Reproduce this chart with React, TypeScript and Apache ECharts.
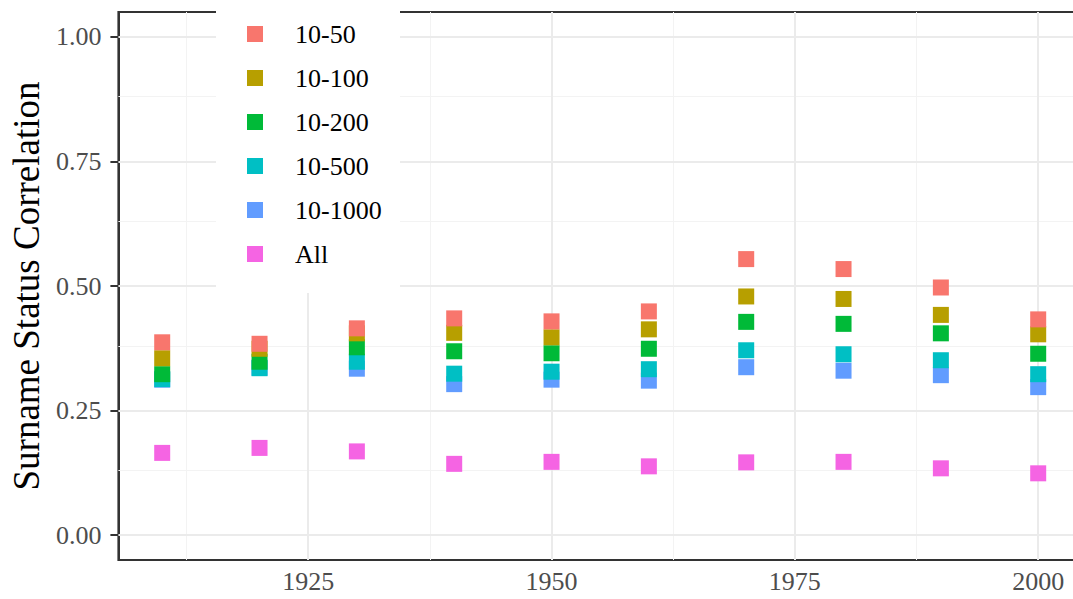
import React, { useEffect, useRef } from "react";
import * as echarts from "echarts";

const years = [1910, 1920, 1930, 1940, 1950, 1960, 1970, 1980, 1990, 2000];
const seriesNames = ["10-50", "10-100", "10-200", "10-500", "10-1000", "All"];
const v50 = [0.387, 0.384, 0.415, 0.435, 0.429, 0.449, 0.554, 0.534, 0.497, 0.433];
const v100 = [0.355, 0.374, 0.405, 0.406, 0.397, 0.413, 0.479, 0.474, 0.442, 0.403];
const v200 = [0.323, 0.348, 0.377, 0.369, 0.365, 0.374, 0.428, 0.424, 0.405, 0.364];
const v500 = [0.313, 0.335, 0.348, 0.324, 0.328, 0.333, 0.371, 0.363, 0.351, 0.323];
const v1000 = [0.312, 0.336, 0.334, 0.303, 0.312, 0.310, 0.337, 0.330, 0.321, 0.297];
const vAll = [0.165, 0.175, 0.168, 0.143, 0.147, 0.138, 0.146, 0.147, 0.134, 0.124];
const seriesValues = [v50, v100, v200, v500, v1000, vAll];
const colors = ["#F8766D", "#B79F00", "#00BA38", "#00BFC4", "#619CFF", "#F564E3"];

const xTicks = [1925, 1950, 1975, 2000];
const xMinor = [1912.5, 1937.5, 1962.5, 1987.5];
const yTicks = [0, 0.25, 0.5, 0.75, 1.0];
const yMinor = [0.125, 0.375, 0.625, 0.875];

const FONT = "Liberation Serif";

export default function App() {
  const ref = useRef<HTMLDivElement>(null);
  useEffect(() => {
    if (!ref.current) return;
    const chart = echarts.init(ref.current, null, { renderer: "svg" });
    const major = { color: "#ebebeb", width: 2, type: "solid" };
    const minor = { color: "#f3f3f3", width: 1, type: "solid" };
    const gridSeries = {
      type: "scatter",
      name: "__grid",
      data: [],
      silent: true,
      z: 1,
      markLine: {
        z: 1,
        silent: true,
        symbol: ["none", "none"],
        label: { show: false },
        animation: false,
        data: [
          ...xMinor.map((v) => ({ xAxis: v, lineStyle: minor })),
          ...yMinor.map((v) => ({ yAxis: v, lineStyle: minor })),
          ...xTicks.map((v) => ({ xAxis: v, lineStyle: major })),
          ...yTicks.map((v) => ({ yAxis: v, lineStyle: major })),
        ],
      },
    };
    const order = [5, 4, 3, 2, 1, 0];
    const dataSeries = order.map((i) => ({
      type: "scatter",
      name: seriesNames[i],
      symbol: "rect",
      symbolSize: 16,
      z: 3,
      itemStyle: { color: colors[i], opacity: 1 },
      data: years.map((y, k) => [y, seriesValues[i][k]]),
    }));
    chart.setOption({
      animation: false,
      backgroundColor: "#ffffff",
      textStyle: { fontFamily: FONT },
      grid: { left: 115, top: 12, right: 0, bottom: 39, show: true, borderColor: "#333333", borderWidth: 2, backgroundColor: "transparent" },
      xAxis: {
        type: "value",
        min: 1905.5,
        max: 2004.5,
        splitLine: { show: false },
        axisLine: { show: true, lineStyle: { color: "#333333", width: 2 } },
        axisTick: { show: true, customValues: xTicks, length: 8, lineStyle: { color: "#333333", width: 2 } },
        axisLabel: {
          customValues: xTicks,
          fontSize: 26,
          color: "#4d4d4d",
          fontFamily: FONT,
          margin: 8,
          formatter: (v: number) => String(v),
        },
      },
      yAxis: {
        type: "value",
        min: -0.05,
        max: 1.05,
        splitLine: { show: false },
        axisLine: { show: true, lineStyle: { color: "#333333", width: 2 } },
        axisTick: { show: true, customValues: yTicks, length: 8, lineStyle: { color: "#333333", width: 2 } },
        axisLabel: {
          customValues: yTicks,
          fontSize: 26,
          color: "#4d4d4d",
          fontFamily: FONT,
          margin: 17,
          formatter: (v: number) => v.toFixed(2),
        },
        name: "Surname Status Correlation",
        nameLocation: "middle",
        nameRotate: 90,
        nameGap: 70,
        nameTextStyle: { fontSize: 37, color: "#000000", fontFamily: FONT },
      },
      legend: {
        data: seriesNames,
        orient: "vertical",
        left: 247,
        top: 21,
        padding: 0,
        itemWidth: 16,
        itemHeight: 16,
        itemGap: 18,
        icon: "rect",
        z: 200,
        selectedMode: false,
        textStyle: { fontSize: 26, color: "#000000", fontFamily: FONT, lineHeight: 26, padding: [0, 0, 0, 27] },
      },
      graphic: [
        {
          type: "rect",
          z: 100,
          shape: { x: 216, y: 0, width: 184, height: 293 },
          style: { fill: "#ffffff" },
          silent: true,
        },
      ],
      series: [gridSeries, ...dataSeries],
    });
    return () => chart.dispose();
  }, []);
  return (
    <div style={{ position: "fixed", left: 0, top: 0, width: 1073, height: 599, overflow: "hidden" }}>
      <div ref={ref} style={{ width: 1082, height: 599 }} />
    </div>
  );
}
